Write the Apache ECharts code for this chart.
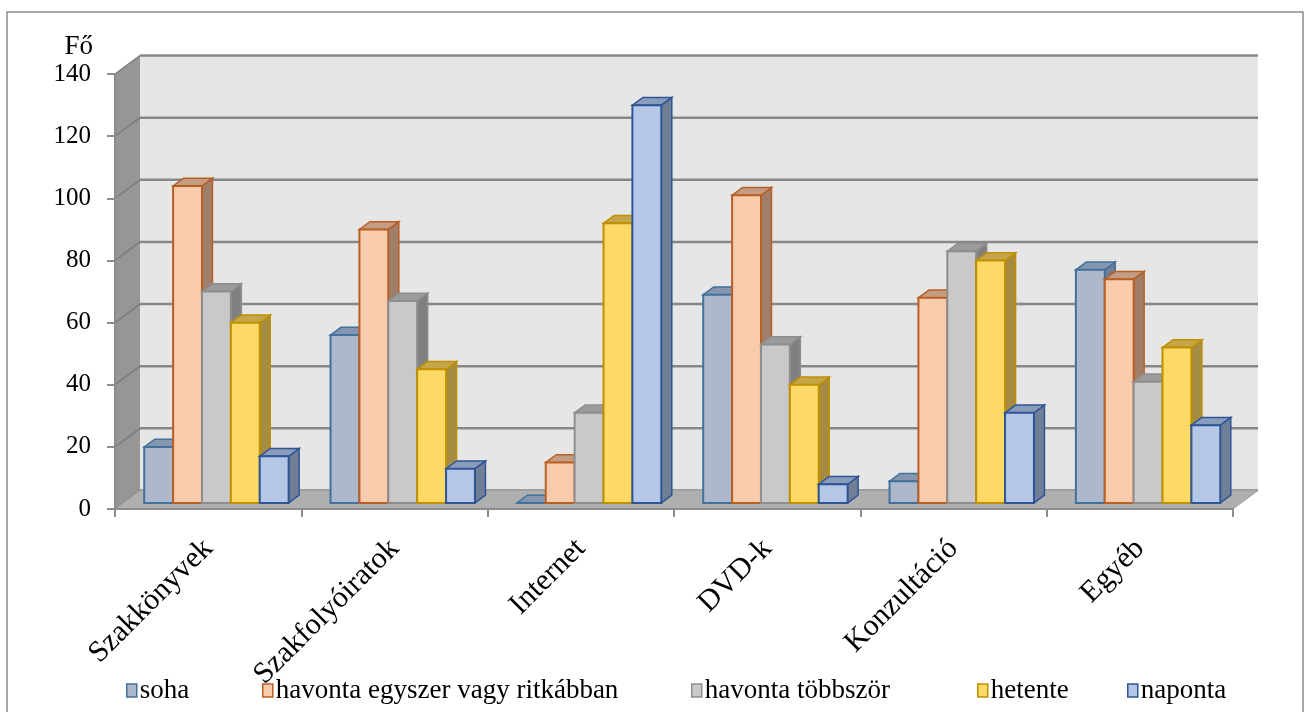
<!DOCTYPE html>
<html>
<head>
<meta charset="utf-8">
<script src="https://cdn.jsdelivr.net/npm/echarts@6/dist/echarts.min.js"></script>
<style>
  html, body { margin: 0; padding: 0; background: #ffffff; }
  #chart { width: 1304px; height: 712px; }
</style>
</head>
<body>
<div id="chart"></div>
<script>
// Categories, series names and values (persons, "Fő")
const categories = ['Szakkönyvek', 'Szakfolyóiratok', 'Internet', 'DVD-k', 'Konzultáció', 'Egyéb'];
const seriesNames = ['soha', 'havonta egyszer vagy ritkábban', 'havonta többször', 'hetente', 'naponta'];
const soha = [18, 54, 0, 67, 7, 75];
const havontaEgyszer = [102, 88, 13, 99, 66, 72];
const havontaTobbszor = [68, 65, 29, 51, 81, 39];
const hetente = [58, 43, 90, 38, 78, 50];
const naponta = [15, 11, 128, 6, 29, 25];
const yTicks = [0, 20, 40, 60, 80, 100, 120, 140];

const seriesValues = [soha, havontaEgyszer, havontaTobbszor, hetente, naponta];

// Face colours of each 3D column: front, outline, top face, right side face
const palette = [
  { front: '#ADB9CA', border: '#41719C', top: '#8597B0', side: '#717F96' },
  { front: '#F8CBAD', border: '#BA5F24', top: '#C39C84', side: '#A07F6A' },
  { front: '#C9C9C9', border: '#8E8E8E', top: '#9B9B9B', side: '#808080' },
  { front: '#FFD966', border: '#BF9000', top: '#C6A64B', side: '#A68C42' },
  { front: '#B4C7E7', border: '#2F5597', top: '#8A9CBB', side: '#717F96' }
];

// Oblique projection: full depth of the box (front plane -> back wall), in px
const DEPTH = [25, -18.5];
const BAR_OFFSET = 0.33;    // where the columns' front faces sit inside the depth
const BAR_DEPTH = 0.42;     // thickness of a column as a share of the depth
const BAR_FRACTION = 0.155; // column width as a share of a category band

// Horizontal position of each legend entry
const legendLeft = [126, 262, 691, 977, 1127];

function barRenderer(k) {
  const c = palette[k];
  return function (params, api) {
    const ci = api.value(0);
    const v = api.value(1);
    const p0 = api.coord([ci, 0]);
    const p1 = api.coord([ci, v]);
    const band = api.size([1, 0])[0];
    const w = band * BAR_FRACTION;
    const ox = DEPTH[0] * BAR_OFFSET, oy = DEPTH[1] * BAR_OFFSET;
    const dx = DEPTH[0] * BAR_DEPTH, dy = DEPTH[1] * BAR_DEPTH;
    const x0 = p0[0] - 2.5 * w + k * w + ox;
    const x1 = x0 + w;
    const yb = p0[1] + oy;
    const yt = p1[1] + oy;
    return {
      type: 'group',
      children: [
        {
          type: 'polygon',
          shape: { points: [[x1, yb], [x1, yt], [x1 + dx, yt + dy], [x1 + dx, yb + dy]] },
          style: { fill: c.side, stroke: c.border, lineWidth: 1.5, lineJoin: 'miter' }
        },
        {
          type: 'polygon',
          shape: { points: [[x0, yt], [x1, yt], [x1 + dx, yt + dy], [x0 + dx, yt + dy]] },
          style: { fill: c.top, stroke: c.border, lineWidth: 1.5, lineJoin: 'miter' }
        },
        {
          type: 'rect',
          shape: { x: x0, y: yt, width: w, height: yb - yt },
          style: { fill: c.front, stroke: c.border, lineWidth: 2 }
        }
      ]
    };
  };
}

// Back wall, left wall, floor and their gridlines
function frameRenderer(params, api) {
  const band = api.size([1, 0])[0];
  const xl = api.coord([0, 0])[0] - band / 2;
  const xr = api.coord([categories.length - 1, 0])[0] + band / 2;
  const y0 = api.coord([0, 0])[1];
  const yTop = api.coord([0, yTicks[yTicks.length - 1]])[1];
  const dx = DEPTH[0], dy = DEPTH[1];
  const children = [
    {
      type: 'rect',
      shape: { x: xl + dx, y: yTop + dy, width: xr - xl, height: y0 - yTop },
      style: { fill: '#E6E6E6' }
    },
    {
      type: 'polygon',
      shape: { points: [[xl, yTop], [xl + dx, yTop + dy], [xl + dx, y0 + dy], [xl, y0]] },
      style: { fill: '#969696' }
    }
  ];
  yTicks.forEach(function (t) {
    const y = api.coord([0, t])[1];
    children.push({
      type: 'line',
      shape: { x1: xl + dx, y1: y + dy, x2: xr + dx, y2: y + dy },
      style: { stroke: '#878787', lineWidth: 2.5 }
    });
    children.push({
      type: 'line',
      shape: { x1: xl, y1: y, x2: xl + dx, y2: y + dy },
      style: { stroke: '#7C7C7C', lineWidth: 1.5 }
    });
  });
  children.push({
    type: 'polygon',
    shape: { points: [[xl, y0], [xr, y0], [xr + dx, y0 + dy], [xl + dx, y0 + dy]] },
    style: { fill: '#AFAFAF', stroke: '#A0A0A0', lineWidth: 1 }
  });
  return { type: 'group', children: children };
}

const fontFamily = "'Liberation Serif', 'Times New Roman', serif";

const series = [
  {
    type: 'custom',
    name: '__frame',
    renderItem: frameRenderer,
    data: [[0, 0]],
    z: 1,
    silent: true,
    clip: false
  }
].concat(seriesValues.map(function (vals, k) {
  return {
    type: 'custom',
    name: seriesNames[k],
    renderItem: barRenderer(k),
    encode: { x: 0, y: 1 },
    data: vals.map(function (v, i) { return [i, v]; }),
    itemStyle: { color: palette[k].front, borderColor: palette[k].border },
    z: 2,
    clip: false
  };
}));

const legends = seriesNames.map(function (n, k) {
  return {
    top: 677,
    left: legendLeft[k],
    icon: 'rect',
    itemWidth: 10,
    itemHeight: 13,
    padding: 0,
    selectedMode: false,
    textStyle: { fontSize: 27, fontFamily: fontFamily, color: '#000000', padding: [0, 0, 0, -2] },
    data: [{ name: n, itemStyle: { color: palette[k].front, borderColor: palette[k].border, borderWidth: 1.5 } }]
  };
});

const chart = echarts.init(document.getElementById('chart'), null, { renderer: 'canvas' });
chart.setOption({
  animation: false,
  backgroundColor: '#ffffff',
  textStyle: { fontFamily: fontFamily, color: '#000000' },
  graphic: [
    {
      type: 'rect',
      shape: { x: 7, y: 12, width: 1296, height: 720 },
      style: { fill: 'none', stroke: '#8C8C8C', lineWidth: 1.5 },
      silent: true,
      z: -1
    }
  ],
  grid: { left: 115, right: 71, top: 74, bottom: 203, containLabel: false },
  xAxis: {
    type: 'category',
    data: categories,
    z: 10,
    axisLine: { show: true, lineStyle: { color: '#8C8C8C', width: 2 } },
    axisTick: { show: true, length: 8, lineStyle: { color: '#8C8C8C', width: 2 } },
    axisLabel: {
      rotate: 45,
      margin: 35,
      fontSize: 30,
      fontFamily: fontFamily,
      color: '#000000'
    },
    splitLine: { show: false }
  },
  yAxis: {
    type: 'value',
    min: 0,
    max: 140,
    interval: 20,
    z: 10,
    name: 'Fő',
    nameLocation: 'end',
    nameGap: 14,
    nameTextStyle: { fontSize: 27, fontFamily: fontFamily, color: '#000000', align: 'right', padding: [0, 22, 0, 0] },
    axisLine: { show: true, lineStyle: { color: '#8C8C8C', width: 2 } },
    axisTick: { show: true, length: 8, lineStyle: { color: '#8C8C8C', width: 2 } },
    axisLabel: { fontSize: 25, margin: 24, fontFamily: fontFamily, color: '#000000' },
    splitLine: { show: false }
  },
  legend: legends,
  series: series
});
</script>
</body>
</html>
